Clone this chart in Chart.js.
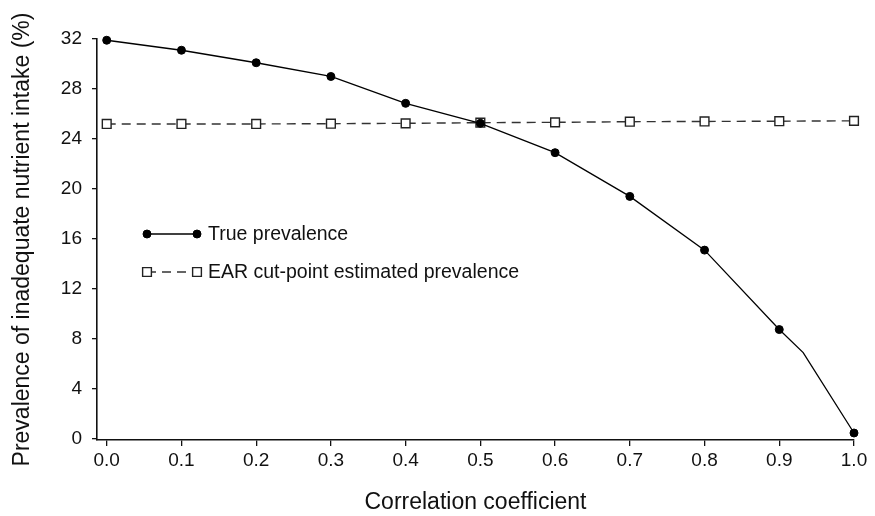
<!DOCTYPE html>
<html>
<head>
<meta charset="utf-8">
<script src="https://cdn.jsdelivr.net/npm/chart.js@4.4.1/dist/chart.umd.min.js"></script>
<style>
  html, body { margin: 0; padding: 0; background: #fff; }
  #wrap { width: 875px; height: 516px; }
</style>
</head>
<body>
<div id="wrap"><canvas id="chart"></canvas></div>
<script>
// data
const corr = [0.0, 0.1, 0.2, 0.3, 0.4, 0.5, 0.6, 0.7, 0.8, 0.9, 1.0];
const truePrev = [31.9, 31.1, 30.1, 29.0, 26.85, 25.25, 22.9, 19.4, 15.1, 8.74, 0.46];
const earPrev = [25.2, 25.2, 25.2, 25.22, 25.25, 25.3, 25.33, 25.38, 25.4, 25.42, 25.45];
// unmarked vertex where the true curve bends between 0.9 and 1.0
const bendCorr = 0.932;
const bendPrev = 6.9;
const xTicks = [0.0, 0.1, 0.2, 0.3, 0.4, 0.5, 0.6, 0.7, 0.8, 0.9, 1.0];
const yTicks = [0, 4, 8, 12, 16, 20, 24, 28, 32];
const labels = ['True prevalence', 'EAR cut-point estimated prevalence'];

const truePoints = corr.map((x, i) => ({x: x, y: truePrev[i]}));
truePoints.splice(corr.indexOf(0.9) + 1, 0, {x: bendCorr, y: bendPrev});
const earPoints = corr.map((x, i) => ({x: x, y: earPrev[i]}));

const FONT = "'Liberation Sans', Arial, Helvetica, sans-serif";
const INK = '#111';

// legend drawn inside the plot area, upper left
const innerLegend = {
  id: 'innerLegend',
  afterDatasetsDraw(chart) {
    const {ctx, chartArea} = chart;
    const x0 = chartArea.left + 50, x1 = chartArea.left + 100;
    const rows = [chartArea.top + 195, chartArea.top + 233];
    ctx.save();
    chart.data.datasets.forEach((ds, i) => {
      const y = rows[i];
      ctx.beginPath();
      ctx.lineWidth = ds.borderWidth;
      ctx.strokeStyle = ds.borderColor;
      ctx.setLineDash(ds.borderDash || []);
      ctx.moveTo(x0, y);
      ctx.lineTo(x1, y);
      ctx.stroke();
      ctx.setLineDash([]);
      [x0, x1].forEach(px => {
        ctx.beginPath();
        if (ds.pointStyle === 'rect') {
          const s = ds.pointRadius * Math.SQRT1_2;
          ctx.rect(px - s, y - s, 2 * s, 2 * s);
        } else {
          ctx.arc(px, y, 4, 0, Math.PI * 2);
        }
        ctx.fillStyle = ds.pointBackgroundColor;
        ctx.fill();
        ctx.lineWidth = ds.pointBorderWidth;
        ctx.strokeStyle = ds.pointBorderColor;
        ctx.stroke();
      });
      ctx.fillStyle = INK;
      ctx.font = '19.5px ' + FONT;
      ctx.textBaseline = 'middle';
      ctx.textAlign = 'left';
      ctx.fillText(ds.label, x1 + 11, y + 1);
    });
    ctx.restore();
  }
};

const ctx = document.getElementById('chart');
new Chart(ctx, {
  type: 'line',
  data: {
    datasets: [{
      label: labels[0],
      data: truePoints,
      borderColor: '#000',
      borderWidth: 1.3,
      pointStyle: 'circle',
      pointRadius: (c) => (c.raw && c.raw.x === bendCorr ? 0 : 4),
      pointBackgroundColor: '#000',
      pointBorderColor: '#000',
      pointBorderWidth: 1,
      tension: 0,
      clip: false
    }, {
      label: labels[1],
      data: earPoints,
      borderColor: '#333',
      borderWidth: 1.4,
      borderDash: [9, 6],
      pointStyle: 'rect',
      pointRadius: 6.2,
      pointBackgroundColor: '#fff',
      pointBorderColor: '#222',
      pointBorderWidth: 1.4,
      tension: 0,
      clip: false
    }]
  },
  options: {
    responsive: true,
    maintainAspectRatio: false,
    animation: false,
    layout: {padding: {left: 5, right: 21, top: 39, bottom: 0}},
    plugins: {
      legend: {display: false},
      tooltip: {enabled: false}
    },
    scales: {
      x: {
        type: 'linear',
        min: -0.013,
        max: 1.0,
        afterBuildTicks: (scale) => { scale.ticks = xTicks.map(v => ({value: v})); },
        afterFit: (scale) => { scale.height = 76; },
        grid: {drawOnChartArea: false, drawTicks: true, tickLength: 6, color: INK, lineWidth: 1.3},
        border: {display: true, color: INK, width: 1.6},
        ticks: {
          color: INK,
          padding: 3,
          maxRotation: 0,
          font: {family: FONT, size: 19},
          callback: (v) => Number(v).toFixed(1)
        },
        title: {
          display: true,
          text: 'Correlation coefficient',
          color: INK,
          padding: {top: 0, bottom: 0},
          font: {family: FONT, size: 23}
        }
      },
      y: {
        type: 'linear',
        min: -0.1,
        max: 32,
        afterBuildTicks: (scale) => { scale.ticks = yTicks.map(v => ({value: v})); },
        afterFit: (scale) => { scale.width = 92; },
        grid: {drawOnChartArea: false, drawTicks: true, tickLength: 5, color: INK, lineWidth: 1.3},
        border: {display: true, color: INK, width: 1.6},
        ticks: {
          color: INK,
          padding: 10,
          font: {family: FONT, size: 19}
        },
        title: {
          display: true,
          text: 'Prevalence of inadequate nutrient intake (%)',
          color: INK,
          font: {family: FONT, size: 23}
        }
      }
    }
  },
  plugins: [innerLegend]
});
</script>
</body>
</html>
